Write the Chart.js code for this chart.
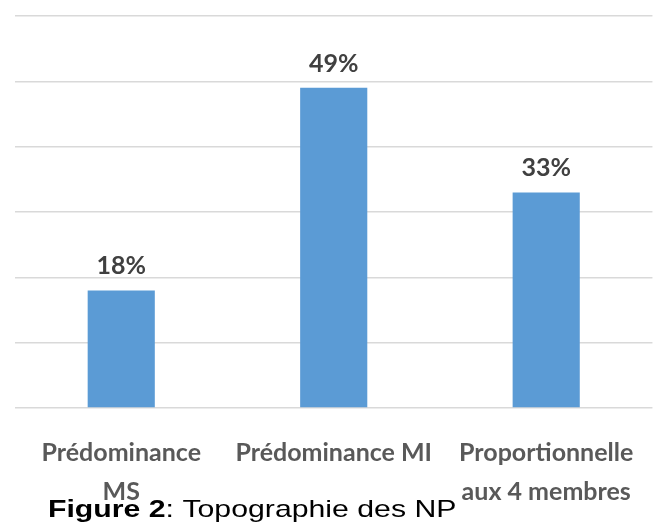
<!DOCTYPE html>
<html>
<head>
<meta charset="utf-8">
<script src="https://cdn.jsdelivr.net/npm/chart.js@4/dist/chart.umd.min.js"></script>
<style>
  html, body { margin: 0; padding: 0; background: #fff; }
  #wrap { width: 659px; height: 528px; }
</style>
</head>
<body>
<div id="wrap"><canvas id="topoChart" width="659" height="528"></canvas></div>
<script>
(function () {
  // Catégories (multi-lignes) et pourcentages
  const categories = [['Prédominance', 'MS'], ['Prédominance MI'], ['Proportionnelle', 'aux 4 membres']];
  const pourcentages = [18, 49, 33];
  const yMin = 0, yMax = 60, yStep = 10;
  const titreGras = 'Figure 2';
  const titreNormal = ': Topographie des NP';

  // Étiquettes de valeur au-dessus des barres
  const valueLabels = {
    id: 'valueLabels',
    afterDatasetsDraw(chart) {
      const ctx = chart.ctx;
      const meta = chart.getDatasetMeta(0);
      ctx.save();
      ctx.fillStyle = '#404040';
      ctx.font = 'bold 25px Lato';
      ctx.textAlign = 'center';
      ctx.textBaseline = 'alphabetic';
      meta.data.forEach((bar, i) => {
        ctx.fillText(pourcentages[i] + '%', bar.x, bar.y - 16);
      });
      ctx.restore();
    }
  };

  // Légende de la figure en bas (partie grasse + partie normale)
  const figureCaption = {
    id: 'figureCaption',
    afterDraw(chart) {
      const ctx = chart.ctx;
      ctx.save();
      ctx.translate(48, 517);
      ctx.scale(1.26, 1);
      ctx.fillStyle = '#000';
      ctx.textBaseline = 'alphabetic';
      ctx.font = 'bold 24px "Liberation Sans"';
      ctx.fillText(titreGras, 0, 0);
      const w = ctx.measureText(titreGras).width;
      ctx.font = '24px "Liberation Sans"';
      ctx.fillText(titreNormal, w, 0);
      ctx.restore();
    }
  };

  new Chart(document.getElementById('topoChart'), {
    type: 'bar',
    data: {
      labels: categories,
      datasets: [{
        data: pourcentages,
        backgroundColor: '#5B9BD5',
        borderWidth: 0,
        categoryPercentage: 1,
        barPercentage: 0.316
      }]
    },
    options: {
      responsive: false,
      animation: false,
      layout: { padding: { left: 15, right: 4, top: 16, bottom: 17 } },
      plugins: {
        legend: { display: false },
        tooltip: { enabled: false }
      },
      scales: {
        x: {
          grid: { display: false, drawTicks: false },
          border: { display: false },
          afterFit(scale) { scale.height = 103; },
          ticks: {
            color: '#595959',
            padding: 25,
            maxRotation: 0,
            autoSkip: false,
            font: { family: 'Lato', weight: 'bold', size: 25, lineHeight: 1.56 }
          }
        },
        y: {
          min: yMin,
          max: yMax,
          ticks: { display: false, stepSize: yStep },
          border: { display: false },
          grid: { color: '#d9d9d9', lineWidth: 1.5, drawTicks: false }
        }
      }
    },
    plugins: [valueLabels, figureCaption]
  });
})();
</script>
</body>
</html>
